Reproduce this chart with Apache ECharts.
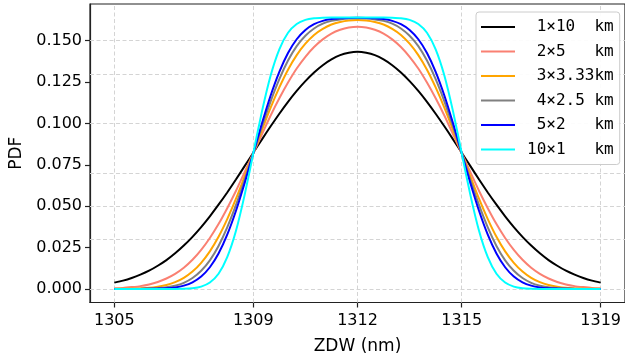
<!DOCTYPE html>
<html><head><meta charset="utf-8">
<script src="https://cdn.jsdelivr.net/npm/echarts@6/dist/echarts.min.js"></script>
<style>html,body{margin:0;padding:0;background:#fff}#c{width:625px;height:361px}</style>
</head><body><div id="c"></div>
<script>
const zdw = [1305, 1305.25, 1305.5, 1305.75, 1306, 1306.25, 1306.5, 1306.75, 1307, 1307.25, 1307.5, 1307.75, 1308, 1308.25, 1308.5, 1308.75, 1309, 1309.25, 1309.5, 1309.75, 1310, 1310.25, 1310.5, 1310.75, 1311, 1311.25, 1311.5, 1311.75, 1312, 1312.25, 1312.5, 1312.75, 1313, 1313.25, 1313.5, 1313.75, 1314, 1314.25, 1314.5, 1314.75, 1315, 1315.25, 1315.5, 1315.75, 1316, 1316.25, 1316.5, 1316.75, 1317, 1317.25, 1317.5, 1317.75, 1318, 1318.25, 1318.5, 1318.75, 1319];

const names = [' 1×10  km', ' 2×5   km', ' 3×3.33km', ' 4×2.5 km', ' 5×2   km', '10×1   km'];

const pdf1x10 = [0.0038, 0.0050, 0.0066, 0.0086, 0.0110, 0.0140, 0.0174, 0.0215, 0.0262, 0.0315, 0.0374, 0.0439, 0.0509, 0.0583, 0.0661, 0.0742, 0.0823, 0.0904, 0.0983, 0.1059, 0.1131, 0.1197, 0.1256, 0.1308, 0.1352, 0.1387, 0.1413, 0.1428, 0.1434,
  0.1428, 0.1413, 0.1387, 0.1352, 0.1308, 0.1256, 0.1197, 0.1131, 0.1059, 0.0983, 0.0904, 0.0823, 0.0742, 0.0661, 0.0583, 0.0509, 0.0439, 0.0374, 0.0315, 0.0262, 0.0215, 0.0174, 0.0140, 0.0110, 0.0086, 0.0066, 0.0050, 0.0038];

const pdf2x5 = [0.0004, 0.0006, 0.0011, 0.0017, 0.0027, 0.0042, 0.0063, 0.0091, 0.0128, 0.0176, 0.0236, 0.0308, 0.0392, 0.0488, 0.0592, 0.0705, 0.0820, 0.0935, 0.1048, 0.1152, 0.1247, 0.1332, 0.1403, 0.1462, 0.1508, 0.1543, 0.1566, 0.1580, 0.1585,
  0.1580, 0.1566, 0.1543, 0.1508, 0.1462, 0.1403, 0.1332, 0.1247, 0.1152, 0.1048, 0.0935, 0.0820, 0.0705, 0.0592, 0.0488, 0.0392, 0.0308, 0.0236, 0.0176, 0.0128, 0.0091, 0.0063, 0.0042, 0.0027, 0.0017, 0.0011, 0.0006, 0.0004];

const pdf3x333 = [0.0000, 0.0001, 0.0002, 0.0004, 0.0007, 0.0014, 0.0024, 0.0041, 0.0067, 0.0105, 0.0158, 0.0227, 0.0315, 0.0422, 0.0544, 0.0679, 0.0820, 0.0961, 0.1096, 0.1218, 0.1325, 0.1413, 0.1482, 0.1535, 0.1572, 0.1598, 0.1613, 0.1622, 0.1625,
  0.1622, 0.1613, 0.1598, 0.1572, 0.1535, 0.1482, 0.1413, 0.1325, 0.1218, 0.1096, 0.0961, 0.0820, 0.0679, 0.0544, 0.0422, 0.0315, 0.0227, 0.0158, 0.0105, 0.0067, 0.0041, 0.0024, 0.0014, 0.0007, 0.0004, 0.0002, 0.0001, 0.0000];

const pdf4x25 = [0.0000, 0.0000, 0.0000, 0.0001, 0.0002, 0.0005, 0.0010, 0.0020, 0.0037, 0.0066, 0.0110, 0.0173, 0.0260, 0.0372, 0.0506, 0.0658, 0.0820, 0.0982, 0.1134, 0.1268, 0.1380, 0.1467, 0.1530, 0.1574, 0.1603, 0.1620, 0.1629, 0.1634, 0.1636,
  0.1634, 0.1629, 0.1620, 0.1603, 0.1574, 0.1530, 0.1467, 0.1380, 0.1268, 0.1134, 0.0982, 0.0820, 0.0658, 0.0506, 0.0372, 0.0260, 0.0173, 0.0110, 0.0066, 0.0037, 0.0020, 0.0010, 0.0005, 0.0002, 0.0001, 0.0000, 0.0000, 0.0000];

const pdf5x2 = [0.0000, 0.0000, 0.0000, 0.0000, 0.0001, 0.0002, 0.0004, 0.0009, 0.0020, 0.0040, 0.0075, 0.0131, 0.0214, 0.0328, 0.0471, 0.0639, 0.0820, 0.1001, 0.1169, 0.1312, 0.1426, 0.1509, 0.1565, 0.1600, 0.1620, 0.1631, 0.1636, 0.1638, 0.1639,
  0.1638, 0.1636, 0.1631, 0.1620, 0.1600, 0.1565, 0.1509, 0.1426, 0.1312, 0.1169, 0.1001, 0.0820, 0.0639, 0.0471, 0.0328, 0.0214, 0.0131, 0.0075, 0.0040, 0.0020, 0.0009, 0.0004, 0.0002, 0.0001, 0.0000, 0.0000, 0.0000, 0.0000];

const pdf10x1 = [0.0000, 0.0000, 0.0000, 0.0000, 0.0000, 0.0000, 0.0000, 0.0000, 0.0001, 0.0004, 0.0014, 0.0039, 0.0092, 0.0192, 0.0350, 0.0567, 0.0820, 0.1073, 0.1290, 0.1448, 0.1548, 0.1601, 0.1626, 0.1636, 0.1639, 0.1640, 0.1640, 0.1640, 0.1640,
  0.1640, 0.1640, 0.1640, 0.1639, 0.1636, 0.1626, 0.1601, 0.1548, 0.1448, 0.1290, 0.1073, 0.0820, 0.0567, 0.0350, 0.0192, 0.0092, 0.0039, 0.0014, 0.0004, 0.0001, 0.0000, 0.0000, 0.0000, 0.0000, 0.0000, 0.0000, 0.0000, 0.0000];

const xTicks = [1305, 1309, 1312, 1315, 1319];
const yTicks = [0, 0.025, 0.05, 0.075, 0.1, 0.125, 0.15];

const colors = ['#000000', '#fa8072', '#ffa500', '#808080', '#0000ff', '#00ffff'];
const allY = [pdf1x10, pdf2x5, pdf3x333, pdf4x25, pdf5x2, pdf10x1];

const chart = echarts.init(document.getElementById('c'), null, {renderer: 'canvas'});
const gridStyle = {color: '#d4d4d4', width: 1, type: [4, 2.5]};
const series = [{
  name: 'grid', type: 'line', data: [], z: 1, silent: true,
  markLine: {
    symbol: 'none', silent: true, animation: false, z: 1,
    label: {show: false}, lineStyle: gridStyle, emphasis: {disabled: true},
    data: xTicks.map(v => ({xAxis: v})).concat(yTicks.map(v => ({yAxis: v})))
  }
}];
allY.forEach((arr, k) => {
  series.push({
    name: names[k], type: 'line', z: 3, showSymbol: false, symbol: 'none',
    smooth: 0.2, animation: false,
    lineStyle: {color: colors[k], width: 2},
    itemStyle: {color: colors[k]},
    data: zdw.map((x, i) => [x, arr[i]])
  });
});

chart.setOption({
  animation: false,
  backgroundColor: '#fff',
  grid: {left: 90, right: -4, top: 4, bottom: 58.5, show: true, borderColor: '#222', borderWidth: 1.2, backgroundColor: 'transparent'},
  legend: {
    data: names, orient: 'vertical', left: 476, top: 12, z: 20,
    itemWidth: 34, itemHeight: 14, itemGap: 8.5,
    padding: [7, 6, 7, 5],
    backgroundColor: 'rgba(255,255,255,0.92)', borderColor: '#cccccc', borderWidth: 1, borderRadius: 3,
    textStyle: {fontFamily: 'DejaVu Sans Mono', fontSize: 16, color: '#000', padding: [0, 0, 0, 7]},
    icon: 'path://M0,0 L1,0 L1,0.06 L0,0.06 Z',
    selectedMode: false
  },
  xAxis: {
    type: 'value', min: 1304.3, max: 1319.7,
    name: 'ZDW (nm)', nameLocation: 'middle', nameGap: 36,
    nameTextStyle: {fontFamily: 'DejaVu Sans', fontSize: 17, color: '#000'},
    axisLine: {show: true, onZero: false, lineStyle: {color: '#222', width: 1.2}},
    axisTick: {show: true, length: 5, lineStyle: {color: '#222', width: 1.2}, customValues: xTicks},
    axisLabel: {show: true, customValues: xTicks, margin: 10, fontFamily: 'DejaVu Sans', fontSize: 16, color: '#000', formatter: v => String(v)},
    splitLine: {show: false}
  },
  yAxis: {
    type: 'value', min: -0.0082, max: 0.1722,
    name: 'PDF', nameLocation: 'middle', nameGap: 62, nameRotate: 90,
    nameTextStyle: {fontFamily: 'DejaVu Sans', fontSize: 17, color: '#000'},
    axisLine: {show: true, onZero: false, lineStyle: {color: '#222', width: 1.2}},
    axisTick: {show: true, length: 5, lineStyle: {color: '#222', width: 1.2}, customValues: yTicks},
    axisLabel: {show: true, customValues: yTicks, margin: 8, fontFamily: 'DejaVu Sans', fontSize: 16, color: '#000', formatter: v => v.toFixed(3)},
    splitLine: {show: false}
  },
  series: series
});
</script></body></html>
